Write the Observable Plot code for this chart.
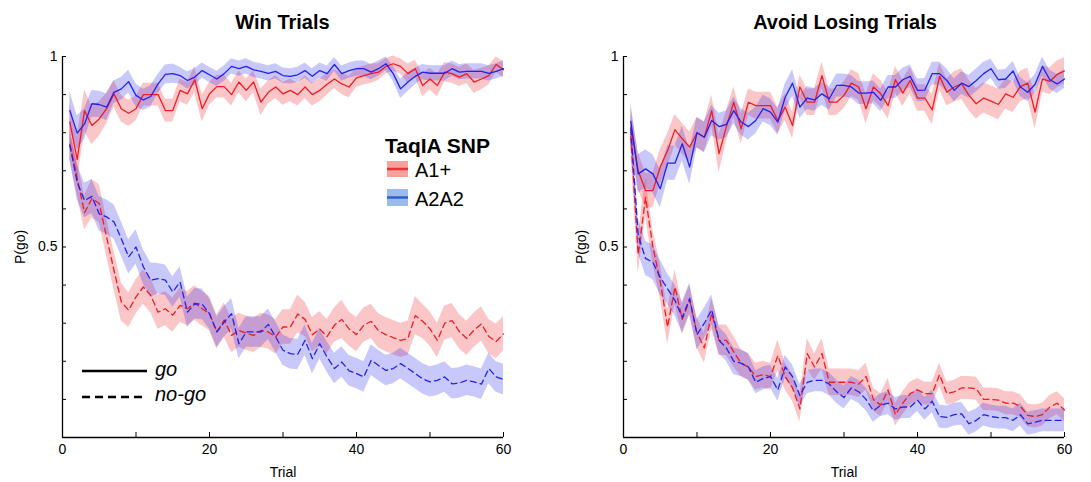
<!DOCTYPE html>
<html><head><meta charset="utf-8">
<script src="https://cdn.jsdelivr.net/npm/d3@7"></script>
<script src="https://cdn.jsdelivr.net/npm/@observablehq/plot@0.6"></script>
<style>
body{margin:0;background:#fff;font-family:"Liberation Sans",Arial,sans-serif;}
#wrap{position:relative;width:1091px;height:482px;overflow:hidden;background:#fff;}
.panel{position:absolute;top:0;}
#overlay{position:absolute;left:0;top:0;pointer-events:none;}
</style></head><body>
<div id="wrap"></div>
<script>
// ---------- data ----------
const trials = d3.range(1, 61);
const groups = ["A1+", "A2A2"];
const types = ["go", "no-go"];
const panelTitles = ["Win Trials", "Avoid Losing Trials"];
const xTicks = [0, 10, 20, 30, 40, 50, 60];
const xTickLabels = [0, 20, 40, 60];
const yTicks = [0.1, 0.2, 0.3, 0.4, 0.5, 0.6, 0.7, 0.8, 0.9, 1];
const yTickLabels = [0.5, 1];
const xAxisLine = [0];
const yAxisLine = [0];

// Win trials
const winGoA1 = [0.828,0.73,0.858,0.819,0.836,0.863,0.902,0.863,0.851,0.863,0.900,0.900,0.900,0.858,0.858,0.911,0.902,0.939,0.863,0.902,0.921,0.921,0.900,0.933,0.911,0.933,0.880,0.906,0.920,0.902,0.911,0.900,0.920,0.900,0.911,0.927,0.941,0.928,0.920,0.944,0.950,0.955,0.959,0.974,0.981,0.974,0.955,0.968,0.924,0.941,0.924,0.959,0.955,0.946,0.955,0.933,0.941,0.950,0.979,0.965];
const winGoA1Sem = [0.05,0.06,0.055,0.05,0.045,0.04,0.035,0.035,0.035,0.032,0.03,0.03,0.03,0.03,0.03,0.03,0.03,0.035,0.035,0.03,0.03,0.03,0.03,0.028,0.03,0.028,0.035,0.03,0.03,0.03,0.03,0.03,0.03,0.03,0.03,0.028,0.025,0.028,0.028,0.025,0.025,0.025,0.022,0.02,0.02,0.02,0.025,0.022,0.03,0.028,0.03,0.025,0.025,0.025,0.025,0.03,0.028,0.025,0.02,0.022];
const winGoA2 = [0.858,0.799,0.823,0.876,0.874,0.867,0.906,0.915,0.934,0.898,0.886,0.895,0.928,0.953,0.955,0.950,0.937,0.946,0.963,0.952,0.941,0.955,0.974,0.968,0.974,0.965,0.961,0.956,0.961,0.950,0.948,0.952,0.963,0.948,0.963,0.955,0.979,0.955,0.963,0.968,0.968,0.959,0.968,0.981,0.955,0.915,0.933,0.948,0.959,0.956,0.956,0.956,0.968,0.959,0.961,0.961,0.961,0.956,0.961,0.968];
const winGoA2Sem = [0.05,0.045,0.04,0.035,0.035,0.035,0.03,0.03,0.03,0.03,0.028,0.028,0.025,0.025,0.025,0.022,0.022,0.022,0.02,0.02,0.02,0.02,0.02,0.02,0.02,0.02,0.02,0.02,0.02,0.02,0.02,0.02,0.02,0.02,0.02,0.02,0.018,0.02,0.02,0.02,0.02,0.02,0.02,0.018,0.02,0.025,0.025,0.022,0.02,0.02,0.02,0.02,0.02,0.02,0.02,0.02,0.02,0.02,0.02,0.02];
const winNoGoA1 = [0.77,0.68,0.59,0.627,0.614,0.526,0.439,0.356,0.334,0.369,0.395,0.373,0.329,0.338,0.321,0.347,0.338,0.353,0.338,0.325,0.277,0.308,0.268,0.281,0.274,0.268,0.281,0.277,0.264,0.29,0.29,0.324,0.31,0.27,0.285,0.265,0.295,0.31,0.285,0.27,0.295,0.305,0.28,0.27,0.262,0.255,0.26,0.32,0.305,0.285,0.255,0.3,0.307,0.278,0.26,0.282,0.298,0.265,0.252,0.272];
const winNoGoA1Sem = [0.04,0.045,0.045,0.05,0.05,0.05,0.05,0.05,0.045,0.045,0.045,0.045,0.045,0.045,0.045,0.045,0.045,0.045,0.045,0.045,0.045,0.045,0.045,0.045,0.045,0.045,0.045,0.045,0.045,0.045,0.045,0.05,0.045,0.045,0.045,0.045,0.045,0.05,0.045,0.045,0.045,0.045,0.045,0.045,0.045,0.045,0.045,0.05,0.045,0.045,0.045,0.045,0.045,0.045,0.045,0.045,0.045,0.045,0.045,0.045];
const winNoGoA2 = [0.767,0.67,0.622,0.633,0.587,0.579,0.566,0.522,0.474,0.50,0.448,0.413,0.417,0.413,0.382,0.408,0.329,0.351,0.35,0.325,0.277,0.303,0.325,0.246,0.277,0.277,0.277,0.297,0.264,0.229,0.22,0.218,0.255,0.207,0.246,0.211,0.181,0.198,0.175,0.168,0.159,0.203,0.189,0.176,0.181,0.194,0.181,0.168,0.154,0.146,0.15,0.159,0.141,0.143,0.15,0.146,0.14,0.181,0.159,0.152];
const winNoGoA2Sem = [0.04,0.045,0.045,0.045,0.045,0.045,0.045,0.045,0.045,0.045,0.045,0.045,0.04,0.04,0.04,0.04,0.04,0.04,0.04,0.04,0.04,0.04,0.04,0.04,0.04,0.04,0.04,0.04,0.04,0.04,0.04,0.04,0.04,0.04,0.04,0.04,0.04,0.04,0.04,0.04,0.04,0.04,0.04,0.04,0.04,0.04,0.04,0.04,0.04,0.04,0.04,0.04,0.04,0.04,0.04,0.04,0.04,0.04,0.04,0.04];

// Avoid losing trials
const avoidGoA1 = [0.815,0.70,0.648,0.648,0.71,0.753,0.808,0.784,0.762,0.80,0.788,0.858,0.745,0.816,0.88,0.81,0.88,0.871,0.871,0.871,0.832,0.867,0.819,0.92,0.88,0.88,0.95,0.88,0.88,0.898,0.93,0.92,0.863,0.92,0.902,0.871,0.939,0.904,0.937,0.891,0.891,0.86,0.948,0.906,0.92,0.928,0.898,0.876,0.891,0.883,0.874,0.902,0.893,0.921,0.93,0.854,0.941,0.935,0.953,0.962];
const avoidGoA1Sem = [0.05,0.05,0.045,0.045,0.045,0.045,0.04,0.04,0.04,0.04,0.04,0.04,0.05,0.04,0.04,0.04,0.035,0.035,0.035,0.035,0.035,0.035,0.035,0.03,0.035,0.035,0.035,0.035,0.035,0.035,0.035,0.035,0.04,0.035,0.035,0.035,0.035,0.035,0.035,0.035,0.035,0.04,0.035,0.035,0.04,0.04,0.04,0.04,0.04,0.04,0.04,0.04,0.04,0.04,0.04,0.045,0.035,0.035,0.035,0.035];
const avoidGoA2 = [0.83,0.692,0.705,0.692,0.653,0.72,0.72,0.771,0.71,0.80,0.788,0.832,0.816,0.822,0.858,0.828,0.816,0.832,0.863,0.854,0.828,0.893,0.93,0.867,0.891,0.886,0.902,0.889,0.924,0.924,0.92,0.904,0.904,0.906,0.885,0.92,0.92,0.939,0.948,0.911,0.912,0.955,0.955,0.937,0.911,0.93,0.921,0.937,0.955,0.968,0.939,0.941,0.962,0.92,0.906,0.927,0.974,0.939,0.928,0.941];
const avoidGoA2Sem = [0.05,0.05,0.05,0.05,0.05,0.045,0.045,0.045,0.045,0.04,0.04,0.04,0.035,0.035,0.035,0.035,0.035,0.035,0.035,0.035,0.035,0.035,0.035,0.03,0.03,0.03,0.03,0.03,0.03,0.03,0.03,0.03,0.03,0.03,0.03,0.03,0.03,0.03,0.03,0.03,0.03,0.03,0.03,0.03,0.03,0.03,0.03,0.03,0.03,0.025,0.025,0.025,0.025,0.025,0.025,0.025,0.025,0.025,0.025,0.025];
const avoidNoGoA1 = [0.79,0.48,0.63,0.50,0.41,0.29,0.395,0.31,0.36,0.275,0.235,0.325,0.255,0.255,0.225,0.195,0.185,0.16,0.165,0.16,0.215,0.16,0.13,0.075,0.22,0.185,0.22,0.145,0.145,0.145,0.145,0.14,0.16,0.10,0.085,0.125,0.06,0.09,0.115,0.125,0.115,0.115,0.165,0.115,0.12,0.13,0.13,0.128,0.10,0.10,0.098,0.09,0.09,0.082,0.058,0.055,0.06,0.08,0.09,0.072];
const avoidNoGoA1Sem = [0.04,0.05,0.05,0.045,0.045,0.045,0.045,0.04,0.04,0.04,0.04,0.04,0.04,0.04,0.04,0.035,0.035,0.035,0.035,0.035,0.04,0.035,0.035,0.035,0.04,0.035,0.04,0.035,0.035,0.035,0.035,0.035,0.035,0.03,0.03,0.03,0.03,0.03,0.03,0.03,0.03,0.03,0.03,0.03,0.03,0.03,0.03,0.03,0.03,0.03,0.03,0.03,0.03,0.03,0.03,0.03,0.03,0.03,0.03,0.03];
const avoidNoGoA2 = [0.81,0.53,0.47,0.46,0.42,0.39,0.36,0.315,0.365,0.27,0.30,0.335,0.255,0.235,0.20,0.195,0.185,0.145,0.155,0.16,0.125,0.185,0.16,0.11,0.145,0.15,0.15,0.14,0.12,0.105,0.13,0.12,0.10,0.07,0.085,0.09,0.075,0.08,0.08,0.098,0.075,0.095,0.055,0.053,0.06,0.062,0.036,0.045,0.06,0.055,0.052,0.052,0.045,0.06,0.036,0.04,0.045,0.045,0.045,0.045];
const avoidNoGoA2Sem = [0.04,0.045,0.045,0.045,0.045,0.04,0.04,0.04,0.04,0.04,0.04,0.04,0.035,0.035,0.035,0.035,0.035,0.03,0.03,0.03,0.03,0.03,0.03,0.03,0.03,0.03,0.03,0.03,0.03,0.03,0.03,0.03,0.03,0.03,0.03,0.03,0.03,0.03,0.03,0.03,0.03,0.03,0.03,0.03,0.03,0.03,0.03,0.03,0.03,0.03,0.03,0.03,0.03,0.03,0.03,0.03,0.03,0.03,0.03,0.03];

// ---------- styling ----------
const lineColors = ["#ee1c24", "#2222ee"];
const FONT = "'Liberation Sans', Arial, Helvetica, sans-serif";
const H = 482, MT = 56, MB = 45;

function makePanel(series, dims) {
  const rows = [];
  series.forEach(s => s.mean.forEach((m, i) => rows.push({
    trial: trials[i], mean: m, lo: m - s.sem[i], hi: m + s.sem[i],
    group: s.group, type: s.type, key: s.group + " " + s.type
  })));
  const fw = dims.width - dims.ml - dims.mr;
  const fh = H - MT - MB;
  return Plot.plot({
    width: dims.width, height: H,
    marginLeft: dims.ml, marginRight: dims.mr, marginTop: MT, marginBottom: MB,
    style: {fontFamily: FONT, fontSize: "14px", color: "#000", background: "transparent", overflow: "visible"},
    x: {domain: [0, 60]},
    y: {domain: [0, 1]},
    color: {domain: groups, range: lineColors},
    marks: [
      Plot.areaY(rows, {x: "trial", y1: "lo", y2: "hi", z: "key", fill: "group", fillOpacity: 0.25}),
      Plot.lineY(rows.filter(d => d.type === "go"), {x: "trial", y: "mean", z: "key", stroke: "group", strokeWidth: 1.3}),
      Plot.lineY(rows.filter(d => d.type === "no-go"), {x: "trial", y: "mean", z: "key", stroke: "group", strokeWidth: 1.3, strokeDasharray: "6,4"}),
      Plot.ruleX(xAxisLine, {x: d => d, stroke: "#000", strokeWidth: 1.3}),
      Plot.ruleY(yAxisLine, {y: d => d, stroke: "#000", strokeWidth: 1.3}),
      Plot.tickX(xTicks, {x: d => d, insetTop: fh - 5, stroke: "#000"}),
      Plot.tickY(yTicks, {y: d => d, insetRight: fw - 4, stroke: "#000"}),
      Plot.axisX(xTickLabels, {tickSize: 0, tickPadding: 7, fontSize: 14, label: "Trial", labelArrow: "none", labelAnchor: "center", labelOffset: 39, tickFormat: d => String(d)}),
      Plot.axisY(yTickLabels, {tickSize: 0, tickPadding: 5, fontSize: 14, label: "P(go)", labelArrow: "none", labelAnchor: "center", labelOffset: 47, tickFormat: d => String(d)})
    ]
  });
}

const wrap = document.getElementById("wrap");
const panels = [
  {left: 0, dims: {width: 545, ml: 62, mr: 42}, series: [
    {group: groups[0], type: types[0], mean: winGoA1, sem: winGoA1Sem},
    {group: groups[1], type: types[0], mean: winGoA2, sem: winGoA2Sem},
    {group: groups[0], type: types[1], mean: winNoGoA1, sem: winNoGoA1Sem},
    {group: groups[1], type: types[1], mean: winNoGoA2, sem: winNoGoA2Sem}
  ]},
  {left: 545, dims: {width: 546, ml: 78, mr: 27}, series: [
    {group: groups[0], type: types[0], mean: avoidGoA1, sem: avoidGoA1Sem},
    {group: groups[1], type: types[0], mean: avoidGoA2, sem: avoidGoA2Sem},
    {group: groups[0], type: types[1], mean: avoidNoGoA1, sem: avoidNoGoA1Sem},
    {group: groups[1], type: types[1], mean: avoidNoGoA2, sem: avoidNoGoA2Sem}
  ]}
];
panels.forEach(p => {
  const el = makePanel(p.series, p.dims);
  el.classList.add("panel");
  el.style.left = p.left + "px";
  wrap.appendChild(el);
});

// ---------- titles & legends (overlay) ----------
const ns = "http://www.w3.org/2000/svg";
const ov = document.createElementNS(ns, "svg");
ov.setAttribute("id", "overlay");
ov.setAttribute("width", 1091); ov.setAttribute("height", 482);
ov.style.fontFamily = FONT;
function el(tag, attrs, text) {
  const e = document.createElementNS(ns, tag);
  for (const k in attrs) e.setAttribute(k, attrs[k]);
  if (text != null) e.textContent = text;
  ov.appendChild(e); return e;
}
el("text", {x: 282.5, y: 29, "text-anchor": "middle", "font-size": 20, "font-weight": "bold"}, panelTitles[0]);
el("text", {x: 845, y: 29, "text-anchor": "middle", "font-size": 20, "font-weight": "bold"}, panelTitles[1]);

// group legend
el("text", {x: 385, y: 153, "font-size": 21, "font-weight": "bold"}, "TaqIA SNP");
const swFill = ["#f5a19c", "#9dbaec"];
const swLine = ["#e63232", "#2a62d2"];
[[161, 177], [189, 206]].forEach((yy, i) => {
  el("rect", {x: 387, y: yy[0], width: 21, height: yy[1] - yy[0], fill: swFill[i]});
  el("line", {x1: 387, x2: 408, y1: (yy[0] + yy[1]) / 2, y2: (yy[0] + yy[1]) / 2, stroke: swLine[i], "stroke-width": 2.5});
  el("text", {x: 415, y: yy[1], "font-size": 20}, groups[i]);
});

// line style legend
el("line", {x1: 82, x2: 147, y1: 371, y2: 371, stroke: "#000", "stroke-width": 2.6});
el("text", {x: 155, y: 376, "font-size": 20, "font-style": "italic"}, types[0]);
el("line", {x1: 82, x2: 147, y1: 397, y2: 397, stroke: "#000", "stroke-width": 2.6, "stroke-dasharray": "8,5"});
el("text", {x: 155, y: 401, "font-size": 20, "font-style": "italic"}, types[1]);
wrap.appendChild(ov);
</script>
</body></html>
